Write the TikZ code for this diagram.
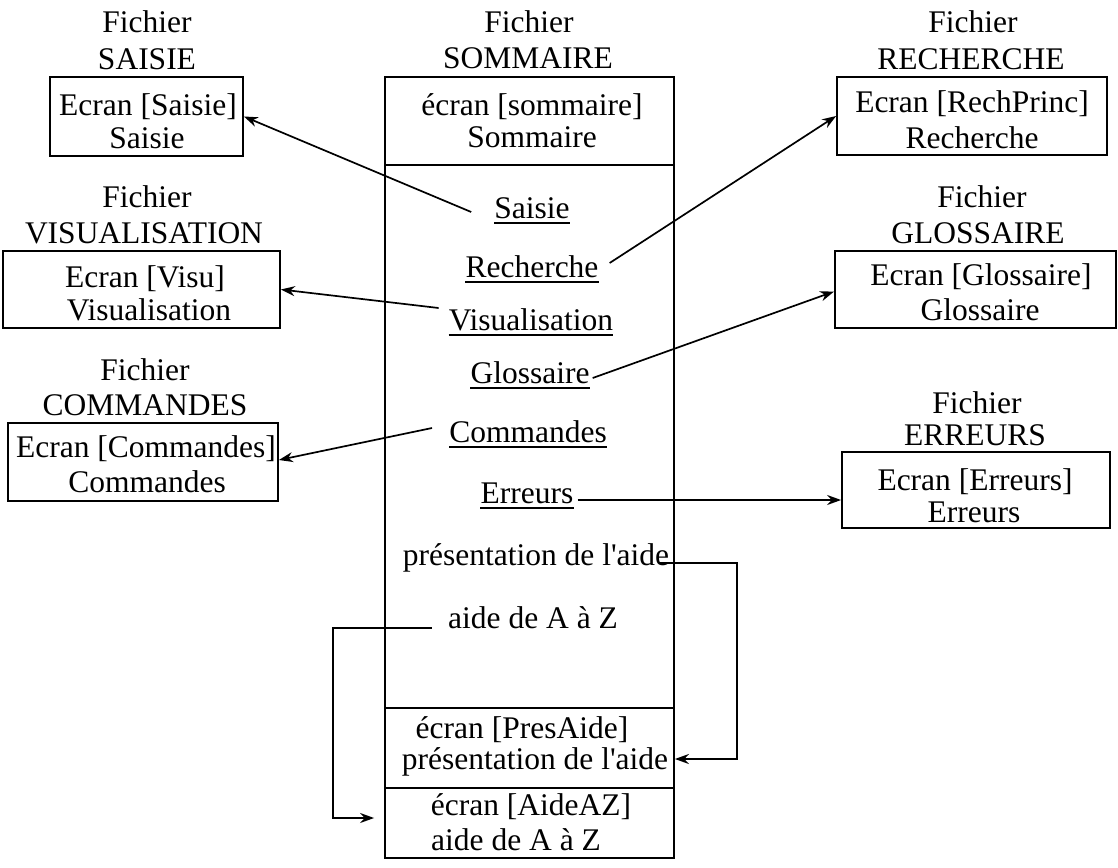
\documentclass[tikz,border=0pt]{standalone}
\usepackage{fontspec}
\setmainfont{Liberation Serif}
\usetikzlibrary{arrows.meta}
\begin{document}
\begin{tikzpicture}[x=1pt,y=-1pt,
  txt/.style={inner sep=0pt, anchor=base, font=\fontsize{31.5}{34}\selectfont},
  box/.style={draw, line width=1.8pt, inner sep=0pt, rectangle},
  arr/.style={line width=1.7pt, -{Stealth[length=14pt,width=10pt]}},
  uline/.style={line width=1.6pt}]
\useasboundingbox (0,0) rectangle (1118,867);

% ---------- boxes ----------
\node[box, minimum width=193pt, minimum height=79pt] (bSaisie) at (146.5,116.5) {};
\node[box, minimum width=277pt, minimum height=77pt] (bVisu) at (141.5,289.5) {};
\node[box, minimum width=270pt, minimum height=78pt] (bCom) at (143,462) {};
\node[box, minimum width=270pt, minimum height=78pt] (bRech) at (972,116) {};
\node[box, minimum width=281pt, minimum height=77pt] (bGlo) at (975.5,289.5) {};
\node[box, minimum width=268pt, minimum height=76pt] (bErr) at (976,490) {};

\node[box, minimum width=289pt, minimum height=88pt] (mHead) at (529.5,121) {};
\node[box, minimum width=289pt, minimum height=543pt] (mBody) at (529.5,436.5) {};
\node[box, minimum width=289pt, minimum height=80pt] (mPres) at (529.5,748) {};
\node[box, minimum width=289pt, minimum height=70pt] (mAZ) at (529.5,823) {};

% ---------- left column texts ----------
\node[txt] (fS1) at (147,33) {Fichier};
\node[txt] (fS2) at (147,70) {SAISIE};
\node[txt] (tS1) at (148,115) {Ecran [Saisie]};
\node[txt] (tS2) at (147,148) {Saisie};

\node[txt] (fV1) at (147,207) {Fichier};
\node[txt] (fV2) at (144,243) {VISUALISATION};
\node[txt] (tV1) at (145,287) {Ecran [Visu]};
\node[txt] (tV2) at (149,320) {Visualisation};

\node[txt] (fC1) at (145,380) {Fichier};
\node[txt] (fC2) at (145,415) {COMMANDES};
\node[txt] (tC1) at (146,457) {Ecran [Commandes]};
\node[txt] (tC2) at (147,492) {Commandes};

% ---------- centre column texts ----------
\node[txt] (fM1) at (529,33) {Fichier};
\node[txt] (fM2) at (528,68) {SOMMAIRE};
\node[txt] (tM1) at (532,115) {écran [sommaire]};
\node[txt] (tM2) at (532,147) {Sommaire};

\node[txt] (lSaisie) at (532,218) {Saisie};
\node[txt] (lRech) at (532,277) {Recherche};
\node[txt] (lVisu) at (531,330) {Visualisation};
\node[txt] (lGlo) at (530,383) {Glossaire};
\node[txt] (lCom) at (528,442) {Commandes};
\node[txt] (lErr) at (527,503) {Erreurs};
\node[txt] (lPres) at (536,565) {présentation de l\textquotesingle aide};
\node[txt] (lAZ) at (533,628) {aide de A à Z};

\node[txt] (tP1) at (522,738) {écran [PresAide]};
\node[txt] (tP2) at (535,769) {présentation de l\textquotesingle aide};
\node[txt] (tA1) at (531,815) {écran [AideAZ]};
\node[txt] (tA2) at (516,850) {aide de A à Z};

% ---------- right column texts ----------
\node[txt] (fR1) at (973,33) {Fichier};
\node[txt] (fR2) at (971,70) {RECHERCHE};
\node[txt] (tR1) at (972,112) {Ecran [RechPrinc]};
\node[txt] (tR2) at (972,148) {Recherche};

\node[txt] (fG1) at (982,207) {Fichier};
\node[txt] (fG2) at (978,243) {GLOSSAIRE};
\node[txt] (tG1) at (981,285) {Ecran [Glossaire]};
\node[txt] (tG2) at (980,320) {Glossaire};

\node[txt] (fE1) at (977,413) {Fichier};
\node[txt] (fE2) at (975,445) {ERREURS};
\node[txt] (tE1) at (975,490) {Ecran [Erreurs]};
\node[txt] (tE2) at (974,522) {Erreurs};

% ---------- underlines ----------
\foreach \n in {lSaisie,lRech,lVisu,lGlo,lCom,lErr}
  \draw[uline] ([yshift=-5pt]\n.base west) -- ([yshift=-5pt]\n.base east);

% ---------- connectors ----------
\draw[arr] ([xshift=-23pt,yshift=6pt]lSaisie.base west) -- (bSaisie.east);
\draw[arr] ([xshift=11pt,yshift=14pt]lRech.base east) -- (bRech.west);
\draw[arr] ([xshift=-10pt,yshift=22pt]lVisu.base west) -- (bVisu.east);
\draw[arr] ([xshift=3pt,yshift=5pt]lGlo.base east) -- ([yshift=-2pt]bGlo.west);
\draw[arr] ([xshift=-17pt,yshift=14pt]lCom.base west) -- ([yshift=2pt]bCom.east);

\coordinate (eS) at ([xshift=4pt,yshift=3pt]lErr.base east);
\draw[arr] (eS) -- (eS -| bErr.west);

\coordinate (rk) at (737,0);
\coordinate (pS) at ([xshift=-9pt,yshift=2pt]lPres.base east);
\draw[arr] (pS) -- (pS -| rk) |- ([yshift=-11pt]mPres.east);

\coordinate (lk) at (333,0);
\coordinate (aS) at ([xshift=-16pt]lAZ.base west);
\draw[arr] (aS) -- (aS -| lk) |- ([xshift=-10pt,yshift=5pt]mAZ.west);
\end{tikzpicture}
\end{document}
